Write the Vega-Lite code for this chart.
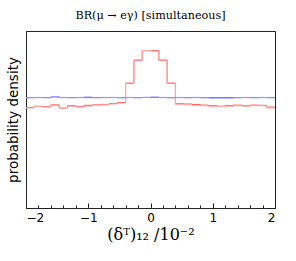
{
  "$schema": "https://vega.github.io/schema/vega-lite/v6.json",
  "width": 249,
  "height": 177,
  "autosize": "none",
  "padding": {"left": 26, "top": 31, "right": 21, "bottom": 53},
  "background": "white",
  "config": {
    "view": {"stroke": "#222222", "strokeWidth": 1},
    "axis": {"domainColor": "#222222", "tickColor": "#222222", "labelColor": "#000000", "titleColor": "#000000", "grid": false}
  },
  "title": {"text": "BR(μ → eγ) [simultaneous]", "font": "DejaVu Serif", "fontSize": 11.2, "fontWeight": "normal", "offset": 10, "color": "#000000"},
  "datasets": {
    "h": [
      {"s": "red", "i": 0, "y": 0.227}, {"s": "red", "i": 1, "y": 0.230}, {"s": "red", "i": 2, "y": 0.229}, {"s": "red", "i": 3, "y": 0.233}, {"s": "red", "i": 4, "y": 0.226}, {"s": "red", "i": 5, "y": 0.231}, {"s": "red", "i": 6, "y": 0.229}, {"s": "red", "i": 7, "y": 0.232}, {"s": "red", "i": 8, "y": 0.233}, {"s": "red", "i": 9, "y": 0.234}, {"s": "red", "i": 10, "y": 0.236}, {"s": "red", "i": 11, "y": 0.2385}, {"s": "red", "i": 12, "y": 0.282}, {"s": "red", "i": 13, "y": 0.334}, {"s": "red", "i": 14, "y": 0.3555}, {"s": "red", "i": 15, "y": 0.3555}, {"s": "red", "i": 16, "y": 0.334}, {"s": "red", "i": 17, "y": 0.282}, {"s": "red", "i": 18, "y": 0.2355}, {"s": "red", "i": 19, "y": 0.235}, {"s": "red", "i": 20, "y": 0.234}, {"s": "red", "i": 21, "y": 0.2325}, {"s": "red", "i": 22, "y": 0.231}, {"s": "red", "i": 23, "y": 0.230}, {"s": "red", "i": 24, "y": 0.231}, {"s": "red", "i": 25, "y": 0.2325}, {"s": "red", "i": 26, "y": 0.231}, {"s": "red", "i": 27, "y": 0.2325}, {"s": "red", "i": 28, "y": 0.232}, {"s": "red", "i": 29, "y": 0.228}, {"s": "red", "i": 30, "y": 0.228},
      {"s": "redl", "i": 0, "y": 0.226}, {"s": "redl", "i": 1, "y": 0.229}, {"s": "redl", "i": 2, "y": 0.228}, {"s": "redl", "i": 3, "y": 0.231}, {"s": "redl", "i": 4, "y": 0.227}, {"s": "redl", "i": 5, "y": 0.229}, {"s": "redl", "i": 6, "y": 0.228}, {"s": "redl", "i": 7, "y": 0.230}, {"s": "redl", "i": 8, "y": 0.232}, {"s": "redl", "i": 9, "y": 0.233}, {"s": "redl", "i": 10, "y": 0.235}, {"s": "redl", "i": 11, "y": 0.237}, {"s": "redl", "i": 12, "y": 0.283}, {"s": "redl", "i": 13, "y": 0.335}, {"s": "redl", "i": 14, "y": 0.356}, {"s": "redl", "i": 15, "y": 0.354}, {"s": "redl", "i": 16, "y": 0.335}, {"s": "redl", "i": 17, "y": 0.283}, {"s": "redl", "i": 18, "y": 0.234}, {"s": "redl", "i": 19, "y": 0.233}, {"s": "redl", "i": 20, "y": 0.232}, {"s": "redl", "i": 21, "y": 0.231}, {"s": "redl", "i": 22, "y": 0.229}, {"s": "redl", "i": 23, "y": 0.229}, {"s": "redl", "i": 24, "y": 0.229}, {"s": "redl", "i": 25, "y": 0.231}, {"s": "redl", "i": 26, "y": 0.230}, {"s": "redl", "i": 27, "y": 0.231}, {"s": "redl", "i": 28, "y": 0.231}, {"s": "redl", "i": 29, "y": 0.226}, {"s": "redl", "i": 30, "y": 0.226},
      {"s": "blue", "i": 0, "y": 0.2495}, {"s": "blue", "i": 1, "y": 0.2495}, {"s": "blue", "i": 2, "y": 0.2495}, {"s": "blue", "i": 3, "y": 0.2512}, {"s": "blue", "i": 4, "y": 0.2495}, {"s": "blue", "i": 5, "y": 0.2495}, {"s": "blue", "i": 6, "y": 0.2495}, {"s": "blue", "i": 7, "y": 0.2495}, {"s": "blue", "i": 8, "y": 0.2495}, {"s": "blue", "i": 9, "y": 0.2495}, {"s": "blue", "i": 10, "y": 0.2495}, {"s": "blue", "i": 11, "y": 0.2495}, {"s": "blue", "i": 12, "y": 0.2495}, {"s": "blue", "i": 13, "y": 0.2495}, {"s": "blue", "i": 14, "y": 0.2498}, {"s": "blue", "i": 15, "y": 0.2498}, {"s": "blue", "i": 16, "y": 0.2495}, {"s": "blue", "i": 17, "y": 0.2495}, {"s": "blue", "i": 18, "y": 0.2495}, {"s": "blue", "i": 19, "y": 0.2495}, {"s": "blue", "i": 20, "y": 0.2495}, {"s": "blue", "i": 21, "y": 0.2495}, {"s": "blue", "i": 22, "y": 0.2495}, {"s": "blue", "i": 23, "y": 0.2495}, {"s": "blue", "i": 24, "y": 0.2495}, {"s": "blue", "i": 25, "y": 0.2495}, {"s": "blue", "i": 26, "y": 0.2495}, {"s": "blue", "i": 27, "y": 0.2495}, {"s": "blue", "i": 28, "y": 0.2495}, {"s": "blue", "i": 29, "y": 0.2495}, {"s": "blue", "i": 30, "y": 0.2495},
      {"s": "bluel", "i": 0, "y": 0.249}, {"s": "bluel", "i": 1, "y": 0.250}, {"s": "bluel", "i": 2, "y": 0.249}, {"s": "bluel", "i": 3, "y": 0.251}, {"s": "bluel", "i": 4, "y": 0.250}, {"s": "bluel", "i": 5, "y": 0.249}, {"s": "bluel", "i": 6, "y": 0.250}, {"s": "bluel", "i": 7, "y": 0.251}, {"s": "bluel", "i": 8, "y": 0.249}, {"s": "bluel", "i": 9, "y": 0.250}, {"s": "bluel", "i": 10, "y": 0.250}, {"s": "bluel", "i": 11, "y": 0.249}, {"s": "bluel", "i": 12, "y": 0.250}, {"s": "bluel", "i": 13, "y": 0.249}, {"s": "bluel", "i": 14, "y": 0.250}, {"s": "bluel", "i": 15, "y": 0.251}, {"s": "bluel", "i": 16, "y": 0.250}, {"s": "bluel", "i": 17, "y": 0.249}, {"s": "bluel", "i": 18, "y": 0.250}, {"s": "bluel", "i": 19, "y": 0.249}, {"s": "bluel", "i": 20, "y": 0.250}, {"s": "bluel", "i": 21, "y": 0.249}, {"s": "bluel", "i": 22, "y": 0.248}, {"s": "bluel", "i": 23, "y": 0.248}, {"s": "bluel", "i": 24, "y": 0.248}, {"s": "bluel", "i": 25, "y": 0.249}, {"s": "bluel", "i": 26, "y": 0.250}, {"s": "bluel", "i": 27, "y": 0.249}, {"s": "bluel", "i": 28, "y": 0.250}, {"s": "bluel", "i": 29, "y": 0.249}, {"s": "bluel", "i": 30, "y": 0.249}
    ],
    "edges": [
      {"i": 0, "x": -2}, {"i": 1, "x": -1.86667}, {"i": 2, "x": -1.73333}, {"i": 3, "x": -1.6}, {"i": 4, "x": -1.46667}, {"i": 5, "x": -1.33333}, {"i": 6, "x": -1.2}, {"i": 7, "x": -1.06667}, {"i": 8, "x": -0.93333}, {"i": 9, "x": -0.8}, {"i": 10, "x": -0.66667}, {"i": 11, "x": -0.53333}, {"i": 12, "x": -0.4}, {"i": 13, "x": -0.26667}, {"i": 14, "x": -0.13333}, {"i": 15, "x": 0}, {"i": 16, "x": 0.13333}, {"i": 17, "x": 0.26667}, {"i": 18, "x": 0.4}, {"i": 19, "x": 0.53333}, {"i": 20, "x": 0.66667}, {"i": 21, "x": 0.8}, {"i": 22, "x": 0.93333}, {"i": 23, "x": 1.06667}, {"i": 24, "x": 1.2}, {"i": 25, "x": 1.33333}, {"i": 26, "x": 1.46667}, {"i": 27, "x": 1.6}, {"i": 28, "x": 1.73333}, {"i": 29, "x": 1.86667}, {"i": 30, "x": 2}
    ]
  },
  "data": {"name": "h"},
  "transform": [
    {"lookup": "i", "from": {"data": {"name": "edges"}, "key": "i", "fields": ["x"]}}
  ],
  "mark": {"type": "line", "interpolate": "step-after", "strokeWidth": 1, "clip": true},
  "encoding": {
    "x": {"field": "x", "type": "quantitative", "scale": {"domain": [-2, 2], "nice": false, "zero": false},
      "axis": {"orient": "bottom",
        "values": [-2, -1.8, -1.6, -1.4, -1.2, -1, -0.8, -0.6, -0.4, -0.2, 0, 0.2, 0.4, 0.6, 0.8, 1, 1.2, 1.4, 1.6, 1.8, 2],
        "format": ".0f",
        "labelExpr": "abs(datum.value - round(datum.value)) < 0.001 ? datum.label : ''",
        "tickSize": {"condition": {"test": "abs(datum.value - round(datum.value)) < 0.001", "value": -5}, "value": -3},
        "labelPadding": 9, "labelFont": "DejaVu Sans", "labelFontSize": 12,
        "title": "(δᵀ)₁₂ /10⁻²", "titleFont": "DejaVu Serif", "titleFontSize": 16, "titleFontWeight": "normal", "titlePadding": 3}},
    "y": {"field": "y", "type": "quantitative", "scale": {"domain": [0, 0.4], "nice": false},
      "axis": {"ticks": false, "labels": false, "title": "probability density", "titleFont": "DejaVu Sans", "titleFontSize": 13.5, "titleFontWeight": "normal", "titlePadding": 6}},
    "color": {"field": "s", "type": "nominal", "scale": {"domain": ["bluel", "redl", "blue", "red"], "range": ["#a0a0ff", "#ffb0b0", "#5a5aff", "#ff4848"]}, "legend": null},
    "detail": {"field": "s"}
  }
}
